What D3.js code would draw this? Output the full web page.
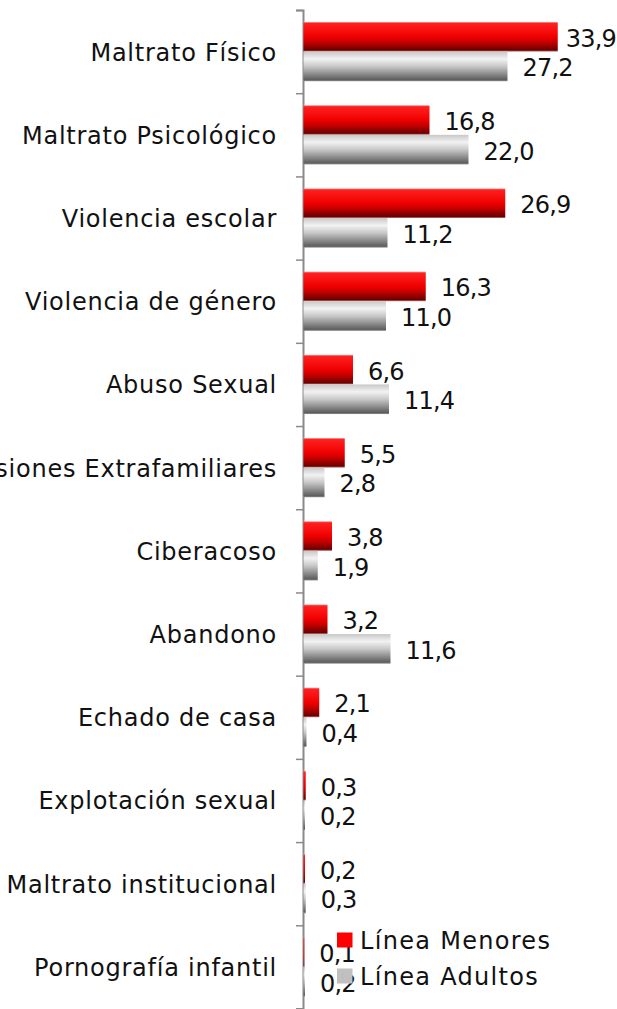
<!DOCTYPE html>
<meta charset="utf-8">
<script src="https://d3js.org/d3.v7.min.js"></script>
<style>
  body { margin: 0; background: #fff; }
  text { font-family: "DejaVu Sans", sans-serif; fill: #111; }
</style>
<body>
<div id="chart"></div>
<script>
// data
const categories = ["Maltrato Físico", "Maltrato Psicológico", "Violencia escolar",
  "Violencia de género", "Abuso Sexual", "Agresiones Extrafamiliares", "Ciberacoso",
  "Abandono", "Echado de casa", "Explotación sexual", "Maltrato institucional",
  "Pornografía infantil"];
const menores = [33.9, 16.8, 26.9, 16.3, 6.6, 5.5, 3.8, 3.2, 2.1, 0.3, 0.2, 0.1];
const adultos = [27.2, 22.0, 11.2, 11.0, 11.4, 2.8, 1.9, 11.6, 0.4, 0.2, 0.3, 0.2];
const seriesNames = ["Línea Menores", "Línea Adultos"];

const W = 617, H = 1009;
const plotLeft = 303, plotTop = 10, plotRight = 603.5, plotBottom = 1008.5;

const svg = d3.select("#chart").append("svg")
  .attr("width", W).attr("height", H);

const defs = svg.append("defs");
const gRed = defs.append("linearGradient").attr("id", "gradRed")
  .attr("x1", 0).attr("y1", 0).attr("x2", 0).attr("y2", 1);
[[0, "#f4a0a0"], [0.05, "#ff2020"], [0.5, "#f00000"], [0.7, "#c00000"], [0.95, "#6a0000"], [1, "#c08080"]]
  .forEach(s => gRed.append("stop").attr("offset", s[0]).attr("stop-color", s[1]));
const gGray = defs.append("linearGradient").attr("id", "gradGray")
  .attr("x1", 0).attr("y1", 0).attr("x2", 0).attr("y2", 1);
[[0, "#c8c8c8"], [0.25, "#f2f2f2"], [0.5, "#c8c8c8"], [0.95, "#5e5e5e"], [1, "#909090"]]
  .forEach(s => gGray.append("stop").attr("offset", s[0]).attr("stop-color", s[1]));

const x = d3.scaleLinear().domain([0, 40]).range([plotLeft + 0.5, plotRight]);
const y = d3.scaleBand().domain(categories).range([plotTop, plotBottom]).paddingInner(0).paddingOuter(0);
const inner = d3.scaleBand().domain(["m", "a"]).range([12, y.bandwidth() - 12]);

// axis
const axis = svg.append("g").attr("transform", `translate(${plotLeft},0)`)
  .call(d3.axisLeft(d3.scaleLinear().domain([0, categories.length]).range([plotTop, plotTop + y.step() * categories.length]))
    .ticks(categories.length).tickSize(7).tickFormat(""));
axis.select(".domain").attr("stroke", "#8a8a8a").attr("stroke-width", 2);
axis.selectAll(".tick line").attr("stroke", "#8a8a8a").attr("stroke-width", 1.5);

// category labels
svg.append("g").selectAll("text").data(categories).join("text")
  .attr("x", 277).attr("y", d => y(d) + y.bandwidth() / 2 + 9)
  .attr("text-anchor", "end")
  .style("font-size", "24px").style("letter-spacing", "0.75px")
  .text(d => d);

const fmt = v => d3.format(".1f")(v).replace(".", ",");

const series = [
  { key: "m", vals: menores, fill: "url(#gradRed)" },
  { key: "a", vals: adultos, fill: "url(#gradGray)" }
];

const bars = svg.append("g");
const labels = svg.append("g");
series.forEach(s => {
  bars.selectAll("rect." + s.key).data(categories).join("rect")
    .attr("class", s.key)
    .attr("x", x(0))
    .attr("y", d => y(d) + inner(s.key))
    .attr("height", inner.bandwidth())
    .attr("width", (d, i) => x(s.vals[i]) - x(0))
    .attr("fill", s.fill);
  labels.selectAll("text." + s.key).data(categories).join("text")
    .attr("class", s.key)
    .attr("y", d => y(d) + inner(s.key) + inner.bandwidth() / 2 + 10)
    .style("font-size", "24px").style("letter-spacing", "-0.8px")
    .text((d, i) => fmt(s.vals[i]))
    .attr("x", function (d, i) {
      const w = this.getComputedTextLength();
      return Math.min(x(s.vals[i]) + 15, 616 - w);
    });
});

// legend
const legend = svg.append("g");
const legColors = ["#ff0000", "#c0c0c0"];
seriesNames.forEach((n, i) => {
  legend.append("rect").attr("x", 337).attr("y", 932.5 + i * 36)
    .attr("width", 15.5).attr("height", 15).attr("fill", legColors[i]);
  legend.append("text").attr("x", 360).attr("y", 949 + i * 36)
    .style("font-size", "24px").style("letter-spacing", "1.3px").text(n);
});
</script>
</body>
